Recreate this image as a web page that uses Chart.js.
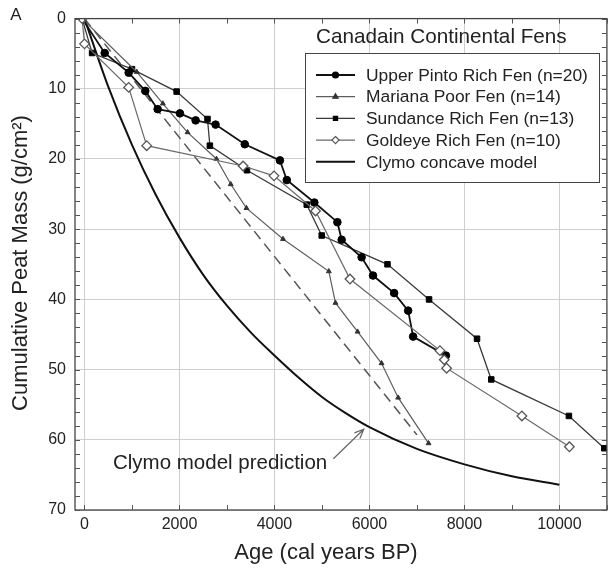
<!DOCTYPE html>
<html>
<head>
<meta charset="utf-8">
<script src="https://cdn.jsdelivr.net/npm/chart.js@4.4.1/dist/chart.umd.min.js"></script>
<style>
  html, body { margin: 0; padding: 0; background: #fff; }
  #wrap { width: 613px; height: 577px; }
</style>
</head>
<body>
<div id="wrap"><canvas id="chart" width="613" height="577"></canvas></div>
<script>
const FONT = '"Liberation Sans", Arial, Helvetica, sans-serif';

// Age (cal years BP) and cumulative peat mass (g/cm2)
const upperPintoAge  = [-50, 425, 930, 1280, 1540, 2010, 2340, 2760, 3375, 4115, 4260, 4840, 5325, 5415, 5835, 6075, 6520, 6815, 6920, 7610];
const upperPintoMass = [0, 4.9, 7.7, 10.3, 12.9, 13.5, 14.5, 15.1, 17.9, 20.2, 23.0, 26.2, 29.0, 31.5, 34.0, 36.6, 39.1, 41.6, 45.3, 48.0];

const marianaAge  = [-50, 1100, 1650, 2170, 2780, 3080, 3410, 4180, 5145, 5285, 5750, 6255, 6605, 7245];
const marianaMass = [0, 7.6, 12.1, 16.2, 20.0, 23.6, 27.0, 31.4, 36.0, 40.5, 44.6, 49.1, 54.0, 60.5];

const sundanceAge  = [-50, 160, 1000, 1940, 2590, 2640, 3420, 4680, 4995, 6380, 7255, 8265, 8565, 10200, 10945];
const sundanceMass = [0, 4.9, 7.2, 10.4, 14.3, 18.1, 21.6, 26.5, 30.9, 35.0, 40.0, 45.6, 51.4, 56.6, 61.2];

const goldeyeAge  = [-50, 0, 930, 1310, 3340, 3990, 4865, 5590, 7485, 7575, 7625, 9210, 10210];
const goldeyeMass = [0, 3.6, 9.8, 18.1, 21.0, 22.4, 27.4, 37.1, 47.3, 48.6, 49.8, 56.6, 61.0];

const clymoAge  = [0, 500, 1000, 1500, 2000, 2500, 3000, 3500, 4000, 4500, 5000, 5500, 6000, 7000, 8000, 9000, 10000];
const clymoMass = [0, 9.7, 18.0, 25.1, 31.2, 36.5, 40.9, 44.7, 48.0, 51.1, 53.9, 56.2, 58.2, 61.3, 63.5, 65.2, 66.4];

const linearAge  = [0, 7000];
const linearMass = [0, 59.3];

const xTicks = [0, 2000, 4000, 6000, 8000, 10000];
const yTicks = [0, 10, 20, 30, 40, 50, 60, 70];

const legendTitle = 'Canadain Continental Fens';
const annotationText = 'Clymo model prediction';

function pts(xs, ys) {
    return xs.map((x, i) => ({ x: x, y: ys[i] }));
}

// hide the marker on the shared start point, the Goldeye diamond sits there
const skipFirst = r => ctx => ctx.dataIndex === 0 ? 0 : r;

const series = [
    { label: 'Goldeye Rich Fen (n=10)', data: pts(goldeyeAge, goldeyeMass), borderColor: '#6a6a6a', borderWidth: 1.2,
      pointStyle: 'rectRot', pointRadius: 4.8, pointBackgroundColor: '#fff', pointBorderColor: '#555', pointBorderWidth: 1.3 },
    { label: 'Upper Pinto Rich Fen (n=20)', data: pts(upperPintoAge, upperPintoMass), borderColor: '#111', borderWidth: 1.8,
      pointStyle: 'circle', pointRadius: skipFirst(3.8), pointBackgroundColor: '#000', pointBorderColor: '#000', pointBorderWidth: 1 },
    { label: 'Mariana Poor Fen (n=14)', data: pts(marianaAge, marianaMass), borderColor: '#5e5e5e', borderWidth: 1.2,
      pointStyle: 'triangle', pointRadius: skipFirst(2.8), pointBackgroundColor: '#333', pointBorderColor: '#333', pointBorderWidth: 1 },
    { label: 'Sundance Rich Fen (n=13)', data: pts(sundanceAge, sundanceMass), borderColor: '#3a3a3a', borderWidth: 1.3,
      pointStyle: 'rect', pointRadius: skipFirst(3.9), pointBackgroundColor: '#000', pointBorderColor: '#000', pointBorderWidth: 1 },
    { label: 'Clymo concave model', data: pts(clymoAge, clymoMass), borderColor: '#111', borderWidth: 2,
      pointRadius: 0, cubicInterpolationMode: 'monotone' },
    { label: 'linear', data: pts(linearAge, linearMass), borderColor: '#555', borderWidth: 1.5,
      borderDash: [10, 6], pointRadius: 0 }
];

const legendOrder = [1, 2, 3, 0, 4];

function drawMarker(ctx, style, x, y, r, fill, stroke) {
    ctx.save();
    ctx.beginPath();
    if (style === 'circle') {
        ctx.arc(x, y, r, 0, Math.PI * 2);
    } else if (style === 'triangle') {
        ctx.moveTo(x, y - r);
        ctx.lineTo(x + r * 0.87, y + r * 0.5);
        ctx.lineTo(x - r * 0.87, y + r * 0.5);
        ctx.closePath();
    } else if (style === 'rect') {
        ctx.rect(x - r * 0.7, y - r * 0.7, r * 1.4, r * 1.4);
    } else if (style === 'rectRot') {
        ctx.moveTo(x, y - r);
        ctx.lineTo(x + r, y);
        ctx.lineTo(x, y + r);
        ctx.lineTo(x - r, y);
        ctx.closePath();
    }
    ctx.fillStyle = fill;
    ctx.fill();
    ctx.lineWidth = 1.2;
    ctx.strokeStyle = stroke;
    ctx.stroke();
    ctx.restore();
}

const decorPlugin = {
    id: 'decor',
    afterDraw(chart) {
        const ctx = chart.ctx;
        const a = chart.chartArea;
        const xs = chart.scales.x, ys = chart.scales.y;
        ctx.save();

        // frame
        ctx.strokeStyle = '#444';
        ctx.lineWidth = 1.3;
        ctx.strokeRect(a.left, a.top, a.right - a.left, a.bottom - a.top);

        // inward minor ticks on all four sides
        ctx.lineWidth = 1;
        ctx.strokeStyle = '#555';
        ctx.beginPath();
        for (let v = 0; v <= 11000; v += 1000) {
            const px = Math.round(xs.getPixelForValue(v)) + 0.5;
            ctx.moveTo(px, a.bottom); ctx.lineTo(px, a.bottom - 5);
            ctx.moveTo(px, a.top); ctx.lineTo(px, a.top + 5);
        }
        for (let v = 0; v <= 70; v += 2) {
            const py = Math.round(ys.getPixelForValue(v)) + 0.5;
            ctx.moveTo(a.left, py); ctx.lineTo(a.left + 5, py);
            ctx.moveTo(a.right, py); ctx.lineTo(a.right - 5, py);
        }
        ctx.stroke();

        // legend title and box
        ctx.fillStyle = '#222';
        ctx.textBaseline = 'middle';
        ctx.textAlign = 'left';
        ctx.font = '20.7px ' + FONT;
        ctx.fillText(legendTitle, 316, 37);

        ctx.fillStyle = '#fff';
        ctx.fillRect(305, 53, 294, 129);
        ctx.strokeStyle = '#444';
        ctx.lineWidth = 1;
        ctx.strokeRect(305.5, 53.5, 294, 129);

        ctx.font = '17.4px ' + FONT;
        legendOrder.forEach((di, i) => {
            const ds = series[di];
            const y = 75 + i * 21.7;
            ctx.strokeStyle = ds.borderColor;
            ctx.lineWidth = ds.borderWidth;
            ctx.beginPath();
            ctx.moveTo(316, y); ctx.lineTo(355, y);
            ctx.stroke();
            if (ds.pointStyle) {
                const fill = ds.pointBackgroundColor;
                drawMarker(ctx, ds.pointStyle, 335.5, y, ds.pointStyle === 'rectRot' ? 3.6 : 3, fill, ds.pointBorderColor);
            }
            ctx.fillStyle = '#222';
            ctx.fillText(ds.label, 366, y + 1);
        });

        // annotation with arrow
        ctx.font = '20.5px ' + FONT;
        ctx.fillStyle = '#222';
        ctx.fillText(annotationText, xs.getPixelForValue(600), ys.getPixelForValue(63.3));
        const tx = xs.getPixelForValue(5240), ty = ys.getPixelForValue(62.7);
        const hx = xs.getPixelForValue(5880), hy = ys.getPixelForValue(58.5);
        const ang = Math.atan2(hy - ty, hx - tx);
        ctx.strokeStyle = '#666';
        ctx.lineWidth = 1.2;
        ctx.beginPath();
        ctx.moveTo(tx, ty); ctx.lineTo(hx, hy);
        ctx.moveTo(hx - 10 * Math.cos(ang - 0.4), hy - 10 * Math.sin(ang - 0.4));
        ctx.lineTo(hx, hy);
        ctx.lineTo(hx - 10 * Math.cos(ang + 0.4), hy - 10 * Math.sin(ang + 0.4));
        ctx.stroke();

        // axis titles
        ctx.fillStyle = '#222';
        ctx.font = '22px ' + FONT;
        ctx.textAlign = 'center';
        ctx.fillText('Age (cal years BP)', 326, 553);
        ctx.save();
        ctx.translate(21, 263);
        ctx.rotate(-Math.PI / 2);
        ctx.fillText('Cumulative Peat Mass (g/cm²)', 0, 0);
        ctx.restore();

        // panel letter
        ctx.font = '17px ' + FONT;
        ctx.fillText('A', 16, 15);
        ctx.restore();
    }
};

new Chart(document.getElementById('chart'), {
    type: 'line',
    data: { datasets: series },
    options: {
        responsive: false,
        animation: false,
        layout: { padding: { top: 14, right: 5, left: 0, bottom: 0 } },
        plugins: { legend: { display: false }, tooltip: { enabled: false } },
        elements: { line: { tension: 0 } },
        scales: {
            x: {
                type: 'linear',
                min: -200,
                max: 11000,
                afterBuildTicks: s => { s.ticks = xTicks.map(v => ({ value: v })); },
                afterFit: s => { s.height = 67; },
                grid: { color: '#cfcfcf', lineWidth: 1, drawTicks: false },
                border: { display: false },
                ticks: { padding: 5, color: '#222', font: { family: FONT, size: 16 },
                         maxRotation: 0, autoSkip: false, callback: v => String(v) }
            },
            y: {
                type: 'linear',
                reverse: true,
                min: 0,
                max: 70,
                afterBuildTicks: s => { s.ticks = yTicks.map(v => ({ value: v })); },
                afterFit: s => { s.width = 75; },
                grid: { color: '#cfcfcf', lineWidth: 1, drawTicks: false },
                border: { display: false },
                ticks: { padding: 9, color: '#222', font: { family: FONT, size: 16 }, callback: v => String(v) }
            }
        }
    },
    plugins: [decorPlugin]
});
</script>
</body>
</html>
